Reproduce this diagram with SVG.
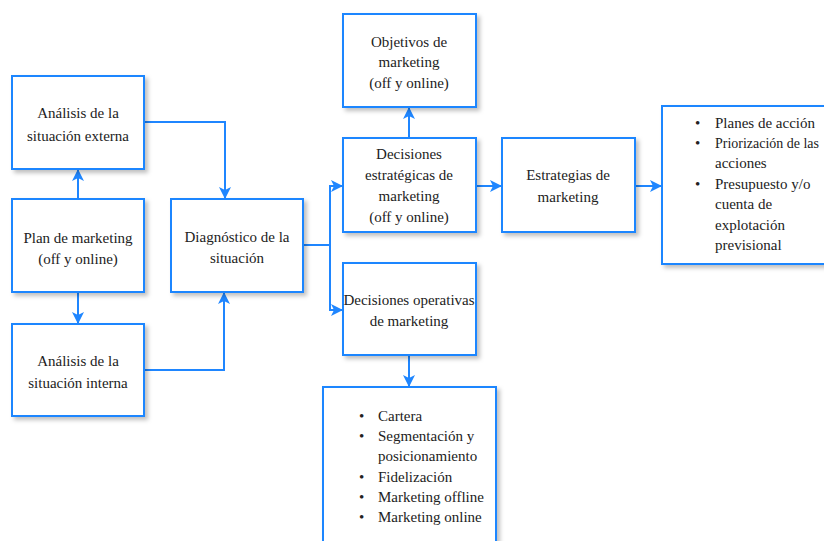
<svg xmlns="http://www.w3.org/2000/svg" width="824" height="541" viewBox="0 0 824 541">
<defs>
<filter id="sh" x="-10%" y="-10%" width="130%" height="130%">
<feDropShadow dx="3" dy="3" stdDeviation="2" flood-color="#000" flood-opacity="0.25"/>
</filter>
<marker id="ah" markerUnits="userSpaceOnUse" markerWidth="12" markerHeight="12" viewBox="0 0 12 12" refX="11" refY="6" orient="auto">
<path d="M0,0 L12,6 L0,12 L3,6 Z" fill="#1f86ff"/>
</marker>
<style>
.box{fill:#fff;stroke:#1f86ff;stroke-width:2;filter:url(#sh)}
.t{font-family:"Liberation Serif","Times New Roman",serif;font-size:15px;fill:#222;text-anchor:middle}
.l{font-family:"Liberation Serif","Times New Roman",serif;font-size:15px;fill:#222}
.c{fill:none;stroke:#1f86ff;stroke-width:2;marker-end:url(#ah)}
</style>
</defs>
<rect width="824" height="541" fill="#fff"/>
<g id="connectors">
<path class="c" d="M78,199 V170"/>
<path class="c" d="M78,292 V323"/>
<path class="c" d="M144,122 H225 V198"/>
<path class="c" d="M144,370 H224 V293"/>
<path class="c" d="M303,245 H330 V186 H342"/>
<path class="c" d="M330,245 V310 H342"/>
<path class="c" d="M409,138 V108"/>
<path class="c" d="M409,355 V386"/>
<path class="c" d="M476,186 H501"/>
<path class="c" d="M635,186 H661"/>
</g>
<g id="externa">
<rect class="box" x="12" y="76" width="132" height="93"/>
<text class="t" x="78" y="118">Análisis de la</text>
<text class="t" x="78" y="141">situación externa</text>
</g>
<g id="plan">
<rect class="box" x="12" y="199" width="132" height="93"/>
<text class="t" x="78" y="243">Plan de marketing</text>
<text class="t" x="78" y="264">(off y online)</text>
</g>
<g id="interna">
<rect class="box" x="12" y="324" width="132" height="92"/>
<text class="t" x="78" y="366">Análisis de la</text>
<text class="t" x="78" y="388">situación interna</text>
</g>
<g id="diagnostico">
<rect class="box" x="171" y="199" width="132" height="93"/>
<text class="t" x="237" y="242">Diagnóstico de la</text>
<text class="t" x="237" y="263">situación</text>
</g>
<g id="objetivos">
<rect class="box" x="343" y="14" width="133" height="93"/>
<text class="t" x="409" y="47">Objetivos de</text>
<text class="t" x="409" y="67">marketing</text>
<text class="t" x="409" y="88">(off y online)</text>
</g>
<g id="estrategicas">
<rect class="box" x="343" y="138" width="133" height="94"/>
<text class="t" x="409" y="159">Decisiones</text>
<text class="t" x="409" y="180">estratégicas de</text>
<text class="t" x="409" y="201">marketing</text>
<text class="t" x="409" y="222">(off y online)</text>
</g>
<g id="operativas">
<rect class="box" x="343" y="263" width="133" height="92"/>
<text class="t" x="409" y="305">Decisiones operativas</text>
<text class="t" x="409" y="326">de marketing</text>
</g>
<g id="lista-operativas">
<rect class="box" x="323" y="387" width="173" height="200"/>
<g class="l">
<text x="359" y="421">•</text><text x="378" y="421">Cartera</text>
<text x="359" y="441">•</text><text x="378" y="441">Segmentación y</text>
<text x="378" y="461">posicionamiento</text>
<text x="359" y="482">•</text><text x="378" y="482">Fidelización</text>
<text x="359" y="502">•</text><text x="378" y="502">Marketing offline</text>
<text x="359" y="522">•</text><text x="378" y="522">Marketing online</text>
</g>
</g>
<g id="estrategias">
<rect class="box" x="502" y="138" width="133" height="94"/>
<text class="t" x="568" y="180">Estrategias de</text>
<text class="t" x="568" y="202">marketing</text>
</g>
<g id="lista-estrategias">
<rect class="box" x="662" y="106" width="200" height="158"/>
<g class="l">
<text x="695" y="128">•</text><text x="715" y="128">Planes de acción</text>
<text x="695" y="148">•</text><text x="715" y="148" textLength="104" lengthAdjust="spacingAndGlyphs">Priorización de las</text>
<text x="715" y="168">acciones</text>
<text x="695" y="189">•</text><text x="715" y="189">Presupuesto y/o</text>
<text x="715" y="209">cuenta de</text>
<text x="715" y="230">explotación</text>
<text x="715" y="250">previsional</text>
</g>
</g>
</svg>
